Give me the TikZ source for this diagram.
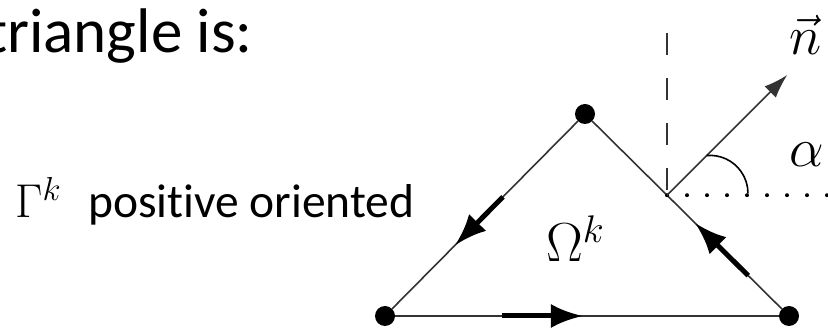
\documentclass[tikz,border=0pt]{standalone}
\usepackage{fix-cm}
\usepackage{fontspec}
\newfontfamily\slidefont[Ligatures=NoCommon]{Carlito}
\usetikzlibrary{arrows.meta, calc}
\tikzset{
  vertex/.style={circle, fill, inner sep=0pt, minimum size=20pt},
  edge/.style={black!80, line width=1.6pt},
  flow/.style={line width=5pt, -{Latex[length=32pt, width=24pt]}},
  helper/.style={edge, dash pattern=on 22pt off 23pt},
  dotline/.style={line width=4pt, line cap=round, dash pattern=on 0pt off 20pt},
  slidetext/.style={inner sep=0pt, anchor=base west, font=\slidefont\fontsize{63}{75}\selectfont},
  bodytext/.style={inner sep=0pt, anchor=base west, font=\slidefont\fontsize{47.5}{57}\selectfont},
  mathlabel/.style={inner sep=0pt, anchor=base west, font=\fontsize{55}{66}\selectfont}
}

\begin{document}
\begin{tikzpicture}[x=1pt, y=1pt]
\clip (0,0) rectangle (828,329);

\node[slidetext] (title) at (-14,276) {triangle is:};
\node[bodytext] (gamma) at (15,111) {$\Gamma^k$};
\node[bodytext] (orient) at (88,111) {positive oriented};

% triangle
\node[vertex] (top) at (585,215) {};
\node[vertex] (lft) at (385,13) {};
\node[vertex] (rgt) at (789,13) {};
\draw[edge] (top) -- (lft) -- (rgt) -- (top);

\draw[flow] ($(top)!0.41!(lft)$) -- ($(top)!0.65!(lft)$);
\draw[flow] ($(lft)!0.29!(rgt)$) -- ($(lft)!0.49!(rgt)$);
\draw[flow] ($(rgt)!0.20!(top)$) -- ($(rgt)!0.46!(top)$);

\node[mathlabel] (omega) at (546,67) {$\Omega^k$};

% normal at the edge
\coordinate (foot) at ($(top)!0.402!(rgt)$);
\coordinate (ntip) at ($(foot)+(45:170)$);
\coordinate (vtop) at ($(foot)+(0,162)$);
\coordinate (hend) at ($(foot)+(170,0)$);
\draw[helper] (vtop) -- (foot);
\draw[dotline] (foot) -- (hend);
\draw[edge, -{Latex[length=24pt, width=16pt]}] (foot) -- (ntip);
\draw[edge, black] ($(foot)!0.33!(ntip)$) arc[start angle=95, end angle=0, radius=38];

\node[mathlabel] (nvec) at (789,274) {$\vec{n}$};
\node[mathlabel] (alpha) at (789,162) {$\alpha$};
\end{tikzpicture}
\end{document}
